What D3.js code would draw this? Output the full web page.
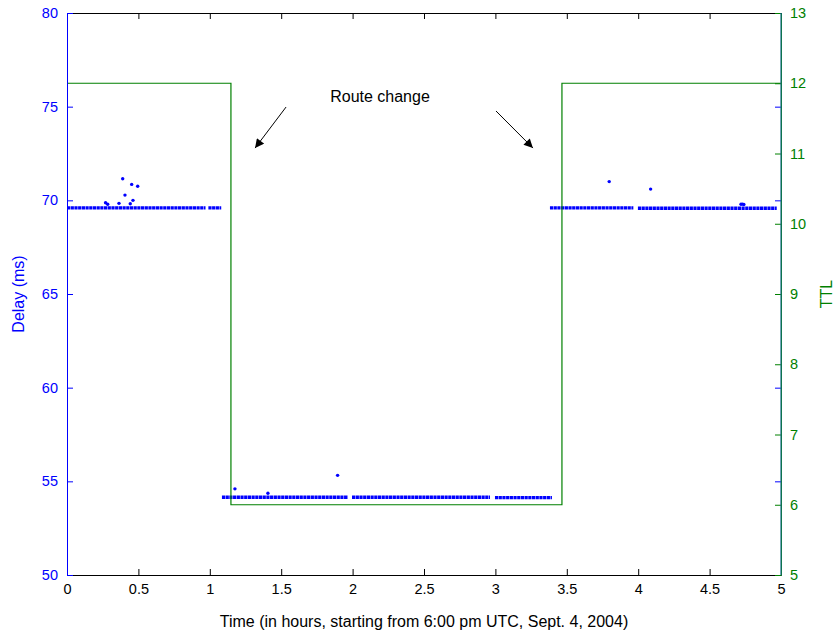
<!DOCTYPE html>
<html>
<head>
<meta charset="utf-8">
<script src="https://cdn.jsdelivr.net/npm/d3@7"></script>
<style>
  body { margin: 0; background: #fff; }
  text { font-family: "Liberation Sans", Arial, sans-serif; }
</style>
</head>
<body>
<div class="chart"></div>
<script>
// chart data (hours since 6:00 pm UTC)

// TTL steps (curveStepAfter)
const ttlTimes = [0, 1.148, 3.466, 5];
const ttlValues = [12, 6, 12, 12];

// dense delay runs: start hour, end hour, delay level (ms)
const runStart = [0, 0.99, 1.085, 1.996, 2.997, 3.382, 3.998];
const runEnd   = [0.97, 1.08, 1.968, 2.962, 3.396, 3.966, 4.97];
const runDelay = [69.6, 69.6, 54.15, 54.15, 54.13, 69.6, 69.58];

// stray delay samples
const outTimes = [0.27, 0.285, 0.364, 0.39, 0.406, 0.443, 0.453, 0.462, 0.495,
                  1.176, 1.407, 1.895, 3.797, 4.087, 4.72, 4.73, 4.74];
const outDelay = [69.87, 69.79, 69.84, 71.15, 70.28, 69.82, 70.85, 70.0, 70.75,
                  54.6, 54.36, 55.32, 71.0, 70.6, 69.79, 69.8, 69.78];

const xTicks = [0, 0.5, 1, 1.5, 2, 2.5, 3, 3.5, 4, 4.5, 5];
const delayTicks = [50, 55, 60, 65, 70, 75, 80];
const ttlTicks = [5, 6, 7, 8, 9, 10, 11, 12, 13];

// annotation: label + two arrows (data coords: hours, ms)
const noteText = "Route change";
const arrowFrom = [[1.534, 74.98], [3.004, 74.77]];
const arrowTo   = [[1.317, 72.79], [3.263, 72.79]];

// svg container size
const width = 835, height = 637;
const margin = { top: 13, right: 54, bottom: 62, left: 67 };
const blue = "#0000ff", green = "#008000";

const svg = d3.select(".chart")
  .append("svg")
  .attr("width", width)
  .attr("height", height);

svg.append("rect").attr("width", width).attr("height", height).attr("fill", "#fff");

const x = d3.scaleLinear().domain([0, 5]).range([margin.left, width - margin.right]);
const yL = d3.scaleLinear().domain([50, 80]).range([height - margin.bottom, margin.top]);
const yR = d3.scaleLinear().domain([5, 13]).range([height - margin.bottom, margin.top]);

const x0 = x.range()[0], x1 = x.range()[1];
const yb = yL.range()[0], yt = yL.range()[1];

// delay runs drawn as dense dotted bands
const runs = runStart.map((s, i) => ({ s, e: runEnd[i], v: runDelay[i] }));
svg.append("g")
  .selectAll("line")
  .data(runs)
  .enter()
    .append("line")
    .attr("x1", d => x(d.s))
    .attr("x2", d => x(d.e))
    .attr("y1", d => yL(d.v))
    .attr("y2", d => yL(d.v))
    .attr("stroke", blue)
    .attr("stroke-width", 3.4)
    .attr("stroke-dasharray", "3.2 0.5");

svg.append("g")
  .selectAll("circle")
  .data(outTimes.map((t, i) => [t, outDelay[i]]))
  .enter()
    .append("circle")
    .attr("cx", d => x(d[0]))
    .attr("cy", d => yL(d[1]))
    .attr("r", 1.7)
    .attr("fill", blue);

// TTL step line
const ttlLine = d3.line()
  .x(d => x(d[0]))
  .y(d => yR(d[1]))
  .curve(d3.curveStepAfter);

svg.append("path")
  .datum(ttlTimes.map((t, i) => [t, ttlValues[i]]))
  .attr("d", ttlLine)
  .attr("fill", "none")
  .attr("stroke", green)
  .attr("stroke-width", 1.2);

// axes
const tickLen = 6;

const bottomAxis = d3.axisBottom(x).tickValues(xTicks).tickSizeInner(-tickLen).tickSizeOuter(0).tickPadding(9).tickFormat(d3.format("~g"));
const topAxis = d3.axisTop(x).tickValues(xTicks).tickSizeInner(-tickLen).tickSizeOuter(0).tickFormat("");
const leftAxis = d3.axisLeft(yL).tickValues(delayTicks).tickSizeInner(-tickLen).tickSizeOuter(0).tickPadding(9);
const leftMirror = d3.axisRight(yL).tickValues(delayTicks).tickSizeInner(-tickLen).tickSizeOuter(0).tickFormat("");
const rightAxis = d3.axisRight(yR).tickValues(ttlTicks).tickSizeInner(-tickLen).tickSizeOuter(0).tickPadding(9);

const styleAxis = (g, color) => {
  g.selectAll("path").attr("stroke", color);
  g.selectAll("line").attr("stroke", color);
  g.selectAll("text").attr("fill", color).style("font-size", "14.5px").style("font-family", "Liberation Sans, Arial, sans-serif");
};

svg.append("g").attr("transform", `translate(0,${yt})`).call(topAxis).call(g => styleAxis(g, "#000"));
svg.append("g").attr("transform", `translate(${x1},0)`).call(leftMirror).call(g => styleAxis(g, blue));
svg.append("g").attr("transform", `translate(0,${yb})`).call(bottomAxis).call(g => styleAxis(g, "#000"));
svg.append("g").attr("transform", `translate(${x0},0)`).call(leftAxis).call(g => styleAxis(g, blue));
svg.append("g").attr("transform", `translate(${x1},0)`).call(rightAxis).call(g => styleAxis(g, green));

// right spine shows the overlap of both axes
svg.append("line").attr("x1", x1).attr("x2", x1).attr("y1", yt).attr("y2", yb)
  .attr("stroke", "#176b87").attr("stroke-width", 1.2);

// axis labels
svg.append("text")
  .attr("x", (x0 + x1) / 2)
  .attr("y", 627)
  .attr("text-anchor", "middle")
  .style("font-size", "16px")
  .text("Time (in hours, starting from 6:00 pm UTC, Sept. 4, 2004)");

svg.append("text")
  .attr("transform", `translate(24,${(yt + yb) / 2}) rotate(-90)`)
  .attr("text-anchor", "middle")
  .attr("fill", blue)
  .style("font-size", "16px")
  .text("Delay (ms)");

svg.append("text")
  .attr("transform", `translate(832,${(yt + yb) / 2}) rotate(-90)`)
  .attr("text-anchor", "middle")
  .attr("fill", green)
  .style("font-size", "16px")
  .text("TTL");

// annotation
svg.append("defs").append("marker")
  .attr("id", "head")
  .attr("viewBox", "0 0 10 10")
  .attr("refX", 10).attr("refY", 5)
  .attr("markerWidth", 11).attr("markerHeight", 9)
  .attr("markerUnits", "userSpaceOnUse")
  .attr("orient", "auto")
  .append("path")
  .attr("d", "M0,0 L10,5 L0,10 Z")
  .attr("fill", "#000");

svg.append("text")
  .attr("x", 380)
  .attr("y", 102)
  .attr("text-anchor", "middle")
  .style("font-size", "16px")
  .text(noteText);

svg.append("g")
  .selectAll("line")
  .data(arrowFrom.map((f, i) => [f, arrowTo[i]]))
  .enter()
    .append("line")
    .attr("x1", d => x(d[0][0]))
    .attr("y1", d => yL(d[0][1]))
    .attr("x2", d => x(d[1][0]))
    .attr("y2", d => yL(d[1][1]))
    .attr("stroke", "#000")
    .attr("stroke-width", 1)
    .attr("marker-end", "url(#head)");
</script>
</body>
</html>
